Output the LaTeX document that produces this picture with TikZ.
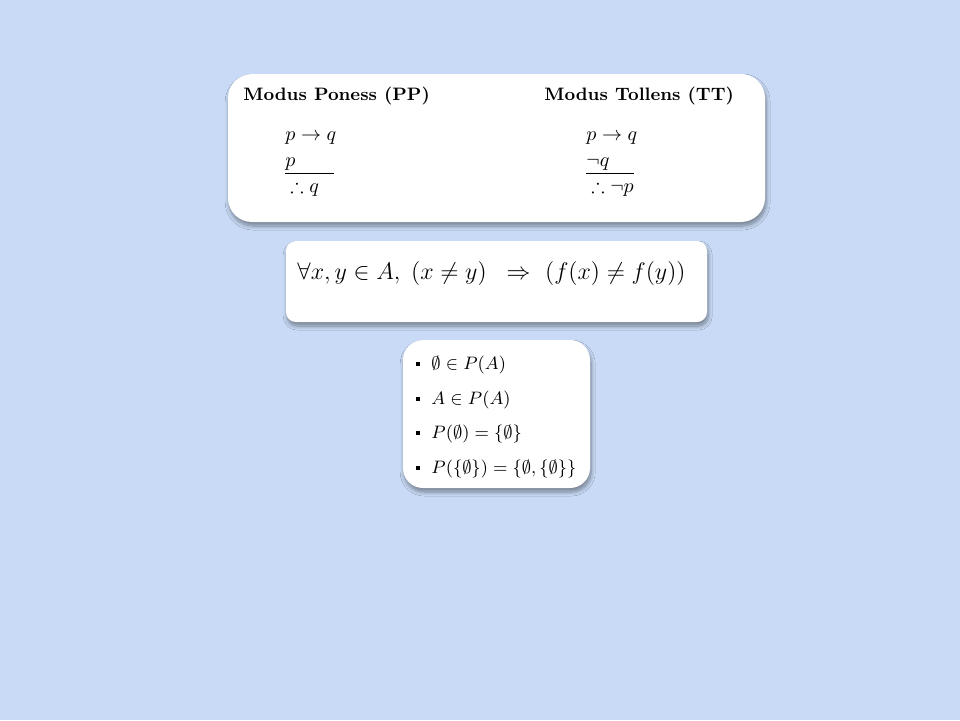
\documentclass[tikz,border=0pt]{standalone}
\usepackage{amsmath,amssymb}
\usepackage{tikz}
\usetikzlibrary{shadows.blur}
\definecolor{slidebg}{RGB}{200,218,245}

\begin{document}
\begin{tikzpicture}[x=0.5pt,y=-0.5pt,line width=0.45pt]
            \tikzstyle{every node}=[inner sep=0pt,anchor=base west,font=\normalsize]
            \tikzstyle{card}=[fill=white,blur shadow={shadow xshift=0.6pt,shadow yshift=-2pt,shadow blur radius=2pt,shadow blur steps=8,shadow opacity=40}]
            \tikzstyle{heading}=[font=\small\bfseries]
            \tikzstyle{item}=[font=\small]
            \tikzstyle{bullet}=[fill=black,anchor=center,minimum size=2.4pt]
            \fill[slidebg] (0,0) rectangle (960,720);
            \useasboundingbox (0,0) rectangle (960,720);
            %\draw[help lines] (0,0) grid (960,720);
            \path[card,rounded corners=12pt] (228,74) rectangle (765,222);
            \path[card,rounded corners=5pt] (286,241) rectangle (707,322);
            \path[card,rounded corners=10pt] (403,340) rectangle (590,488);

            \node[heading] (pphead) at (243,100) {Modus Poness (PP)};
            \node[heading] (tthead) at (544,100) {Modus Tollens (TT)};
            \node (pp1) at (285,140) {$p\rightarrow q$};
            \node (pp2) at (285,166) {$p$};
            \node (pp3) at (290,192) {$\therefore q$};
            \node (tt1) at (586,140) {$p\rightarrow q$};
            \node (tt2) at (586,166) {$\neg q$};
            \node (tt3) at (591,192) {$\therefore \neg p$};
            \draw (285,173) -- (334,173);
            \draw (586,173) -- (634,173);

            \node[font=\large] (inj) at (297,279) {$\forall x,y\in A,\;(x\neq y)\;\;\Rightarrow\ (f(x)\neq f(y))$};

            \node[bullet] (b1) at (418,364) {};
            \node[item] (s1) at (431,369) {$\emptyset\in P(A)$};
            \node[bullet] (b2) at (418,399) {};
            \node[item] (s2) at (431,404) {$A\in P(A)$};
            \node[bullet] (b3) at (418,433) {};
            \node[item] (s3) at (431,438) {$P(\emptyset)=\{\emptyset\}$};
            \node[bullet] (b4) at (418,468) {};
            \node[item] (s4) at (431,473) {$P(\{\emptyset\})=\{\emptyset,\{\emptyset\}\}$};
        \end{tikzpicture}
\end{document}
